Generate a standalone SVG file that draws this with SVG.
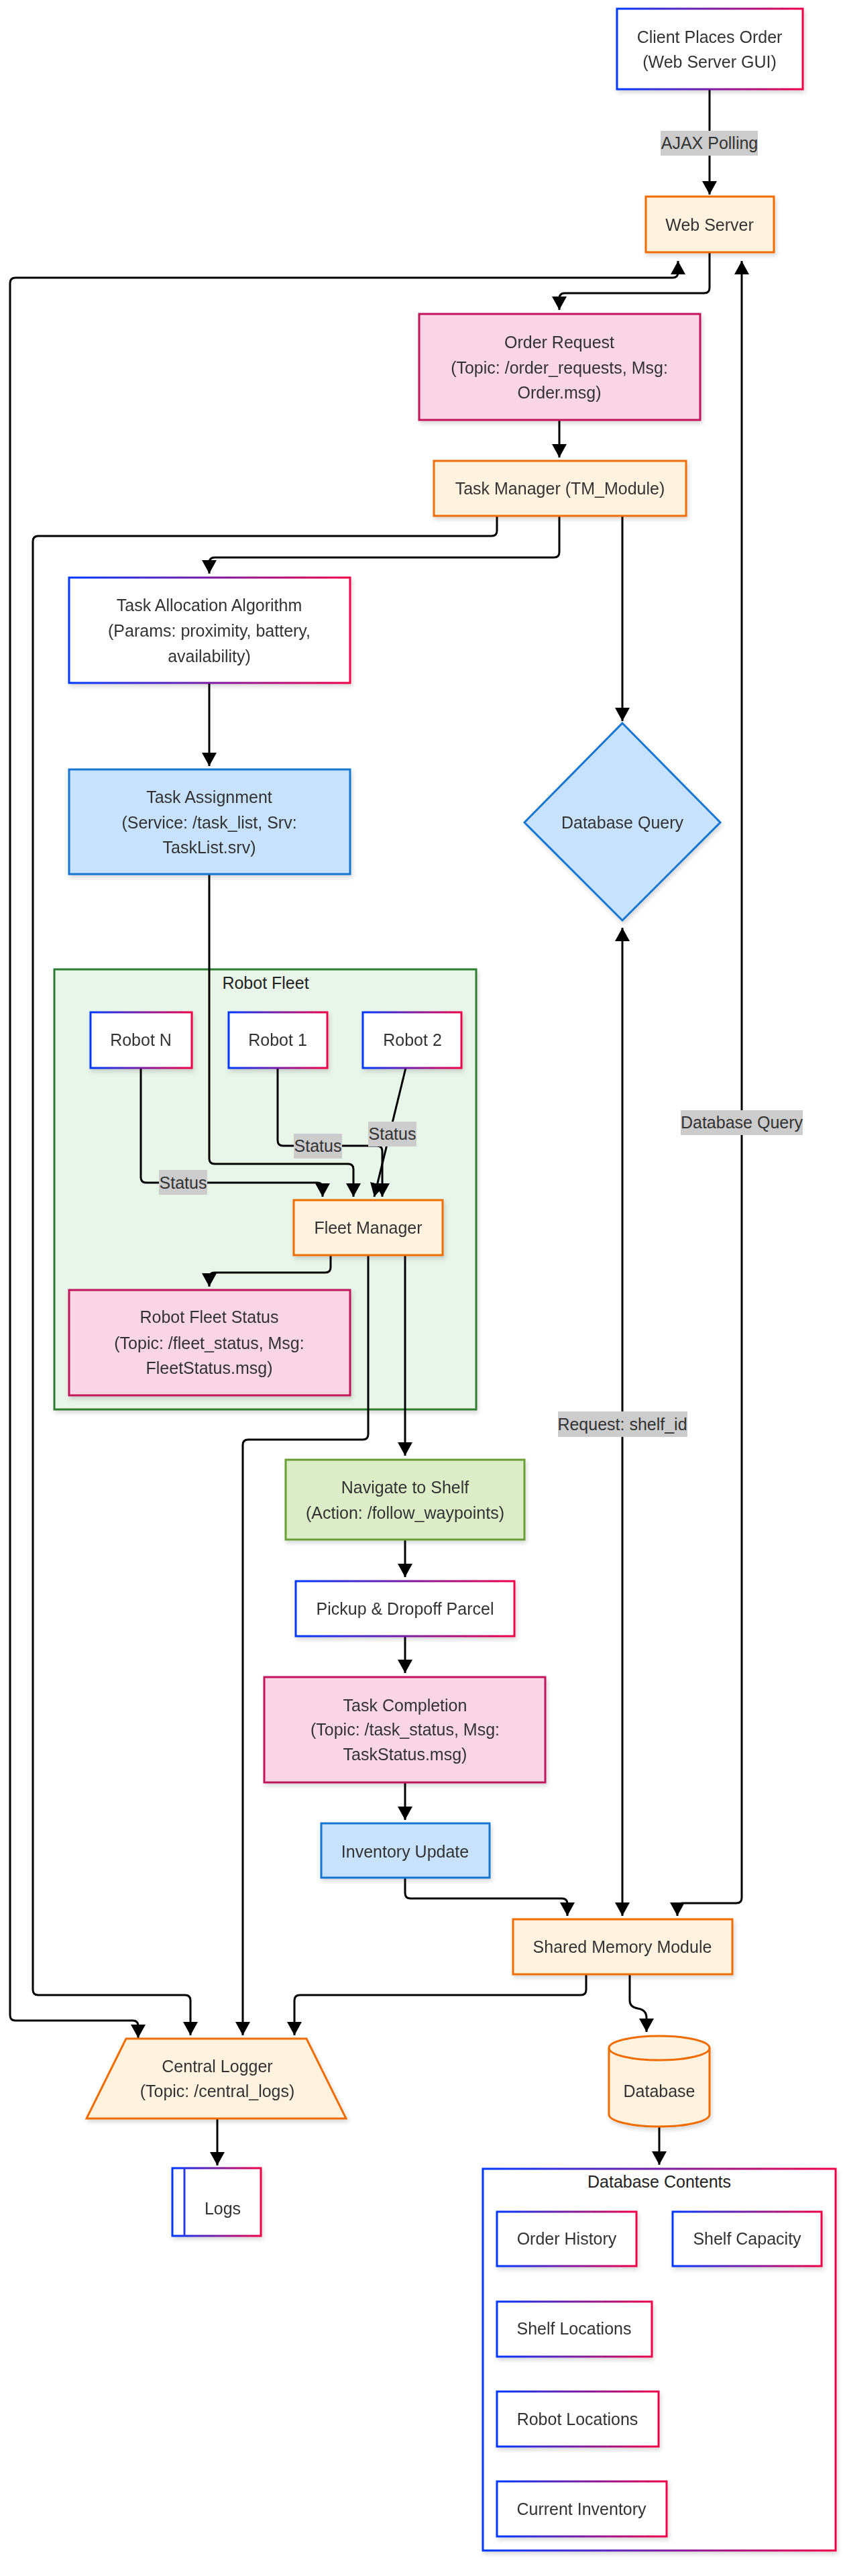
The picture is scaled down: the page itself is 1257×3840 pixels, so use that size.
<svg xmlns="http://www.w3.org/2000/svg" width="1257" height="3840" viewBox="0 0 1257 3840">
<defs>
<linearGradient id="grad" x1="0" y1="0" x2="1" y2="0">
<stop offset="0" stop-color="#0038ff"/>
<stop offset="1" stop-color="#f00048"/>
</linearGradient>
<filter id="sh" x="-10%" y="-10%" width="120%" height="130%">
<feDropShadow dx="2" dy="4" stdDeviation="3" flood-color="#000" flood-opacity="0.15"/>
</filter>
<marker id="ah" markerUnits="userSpaceOnUse" markerWidth="20" markerHeight="22" refX="20" refY="11" orient="auto-start-reverse" viewBox="0 0 20 22">
<path d="M0,0 L20,11 L0,22 z" fill="#000"/>
</marker>
<style>
.t{font-family:"Liberation Sans",Arial,sans-serif;font-size:25px;fill:#333;text-anchor:middle}
.tt{font-family:"Liberation Sans",Arial,sans-serif;font-size:25px;fill:#222;text-anchor:middle}
.g{fill:#fff;stroke:url(#grad);stroke-width:3}
.o{fill:#fff3e0;stroke:#ef6c00;stroke-width:3}
.p{fill:#f9d5e5;stroke:#c2185b;stroke-width:3}
.b{fill:#c6e2fc;stroke:#1976d2;stroke-width:3}
.gr{fill:#ddedc8;stroke:#689f38;stroke-width:3}
.e{fill:none;stroke:#000;stroke-width:3}
.lb{fill:#cccccc}
</style>
</defs>
<rect width="1257" height="3840" fill="#fff"/>

<g id="robot_fleet">
<rect x="81" y="1445" width="629" height="656" fill="#e8f5e9" stroke="#2e7d32" stroke-width="3" filter="url(#sh)"/>
<text class="tt" x="396" y="1474">Robot Fleet</text>
</g>
<g id="db_contents">
<rect x="720" y="3233" width="526" height="569" class="g" filter="url(#sh)"/>
<text class="tt" x="983" y="3261">Database Contents</text>
</g>

<g id="connectors" class="e">
<path class="e" d="M1058,133 L1058,290" marker-end="url(#ah)"/>
<path class="e" d="M1058,376 L1058,429 Q1058,437 1050,437 L842,437 Q834,437 834,445 L834,462" marker-end="url(#ah)"/>
<path class="e" d="M834,626 L834,682" marker-end="url(#ah)"/>
<path class="e" d="M834,769 L834,823 Q834,831 826,831 L320,831 Q312,831 312,839 L312,855" marker-end="url(#ah)"/>
<path class="e" d="M741,769 L741,791 Q741,799 733,799 L57,799 Q49,799 49,807 L49,2966 Q49,2974 57,2974 L276,2974 Q284,2974 284,2982 L284,3034" marker-end="url(#ah)"/>
<path class="e" d="M928,769 L928,1075" marker-end="url(#ah)"/>
<path class="e" d="M312,1018 L312,1142" marker-end="url(#ah)"/>
<path class="e" d="M312,1303 L312,1727 Q312,1735 320,1735 L519,1735 Q527,1735 527,1743 L527,1784" marker-end="url(#ah)"/>
<path class="e" d="M210,1592 L210,1755 Q210,1763 218,1763 L473,1763 Q481,1763 481,1771 L481,1784" marker-end="url(#ah)"/>
<path class="e" d="M414,1592 L414,1700 Q414,1708 422,1708 L562,1708 Q570,1708 570,1716 L570,1784" marker-end="url(#ah)"/>
<path class="e" d="M605,1592 L558,1784" marker-end="url(#ah)"/>
<path class="e" d="M493,1871 L493,1889 Q493,1897 485,1897 L320,1897 Q312,1897 312,1905 L312,1918" marker-end="url(#ah)"/>
<path class="e" d="M549,1871 L549,2138 Q549,2146 541,2146 L370,2146 Q362,2146 362,2154 L362,3034" marker-end="url(#ah)"/>
<path class="e" d="M604,1871 L604,2170" marker-end="url(#ah)"/>
<path class="e" d="M604,2295 L604,2351" marker-end="url(#ah)"/>
<path class="e" d="M604,2439 L604,2494" marker-end="url(#ah)"/>
<path class="e" d="M604,2657 L604,2713" marker-end="url(#ah)"/>
<path class="e" d="M604,2799 L604,2822 Q604,2830 612,2830 L838,2830 Q846,2830 846,2838 L846,2856" marker-end="url(#ah)"/>
<path class="e" d="M928,1383 L928,2856" marker-start="url(#ah)" marker-end="url(#ah)"/>
<path class="e" d="M1106,389 L1106,2829 Q1106,2837 1098,2837 L1018,2837 Q1010,2837 1010,2845 L1010,2856" marker-start="url(#ah)" marker-end="url(#ah)"/>
<path class="e" d="M1011,389 L1011,406 Q1011,414 1003,414 L23,414 Q15,414 15,422 L15,3004 Q15,3012 23,3012 L198,3012 Q206,3012 206,3020 L206,3038" marker-start="url(#ah)" marker-end="url(#ah)"/>
<path class="e" d="M874,2943 L874,2966 Q874,2974 866,2974 L447,2974 Q439,2974 439,2982 L439,3034" marker-end="url(#ah)"/>
<path class="e" d="M939,2943 L939,2982 Q939,2992 951,2994 Q964,2996 964,3008 L964,3029" marker-end="url(#ah)"/>
<path class="e" d="M324,3158 L324,3228" marker-end="url(#ah)"/>
<path class="e" d="M983,3170 L983,3227" marker-end="url(#ah)"/>
</g>

<g id="edge_labels">
<rect class="lb" x="985" y="195" width="145" height="37"/>
<text class="t" x="1058" y="222">AJAX Polling</text>
<rect class="lb" x="237" y="1744" width="72" height="37"/>
<text class="t" x="273" y="1772">Status</text>
<rect class="lb" x="438" y="1690" width="72" height="37"/>
<text class="t" x="474" y="1717">Status</text>
<rect class="lb" x="549" y="1672" width="72" height="37"/>
<text class="t" x="585" y="1699">Status</text>
<rect class="lb" x="1015" y="1655" width="182" height="37"/>
<text class="t" x="1106" y="1682">Database Query</text>
<rect class="lb" x="832" y="2104" width="193" height="38"/>
<text class="t" x="928" y="2132">Request: shelf_id</text>
</g>

<g id="client" filter="url(#sh)">
<rect x="920" y="13" width="277" height="120" class="g"/>
<text class="t" x="1058" y="64">Client Places Order</text>
<text class="t" x="1058" y="101">(Web Server GUI)</text>
</g>
<g id="web_server" filter="url(#sh)">
<rect x="963" y="293" width="191" height="83" class="o"/>
<text class="t" x="1058" y="344">Web Server</text>
</g>
<g id="order_request" filter="url(#sh)">
<rect x="625" y="468" width="419" height="158" class="p"/>
<text class="t" x="834" y="519">Order Request</text>
<text class="t" x="834" y="557">(Topic: /order_requests, Msg:</text>
<text class="t" x="834" y="594">Order.msg)</text>
</g>
<g id="task_manager" filter="url(#sh)">
<rect x="647" y="687" width="376" height="82" class="o"/>
<text class="t" x="835" y="737">Task Manager (TM_Module)</text>
</g>
<g id="task_allocation" filter="url(#sh)">
<rect x="103" y="861" width="419" height="157" class="g"/>
<text class="t" x="312" y="911">Task Allocation Algorithm</text>
<text class="t" x="312" y="949">(Params: proximity, battery,</text>
<text class="t" x="312" y="987">availability)</text>
</g>
<g id="task_assignment" filter="url(#sh)">
<rect x="103" y="1147" width="419" height="156" class="b"/>
<text class="t" x="312" y="1197">Task Assignment</text>
<text class="t" x="312" y="1235">(Service: /task_list, Srv:</text>
<text class="t" x="312" y="1272">TaskList.srv)</text>
</g>
<g id="database_query" filter="url(#sh)">
<polygon points="928,1078 1074,1226 928,1372 782,1226" class="b"/>
<text class="t" x="928" y="1235">Database Query</text>
</g>
<g id="robot_n" filter="url(#sh)">
<rect x="135" y="1509" width="151" height="83" class="g"/>
<text class="t" x="210" y="1559">Robot N</text>
</g>
<g id="robot_1" filter="url(#sh)">
<rect x="341" y="1509" width="147" height="83" class="g"/>
<text class="t" x="414" y="1559">Robot 1</text>
</g>
<g id="robot_2" filter="url(#sh)">
<rect x="541" y="1509" width="147" height="83" class="g"/>
<text class="t" x="615" y="1559">Robot 2</text>
</g>
<g id="fleet_manager" filter="url(#sh)">
<rect x="438" y="1789" width="222" height="82" class="o"/>
<text class="t" x="549" y="1839">Fleet Manager</text>
</g>
<g id="robot_fleet_status" filter="url(#sh)">
<rect x="103" y="1923" width="419" height="157" class="p"/>
<text class="t" x="312" y="1972">Robot Fleet Status</text>
<text class="t" x="312" y="2011">(Topic: /fleet_status, Msg:</text>
<text class="t" x="312" y="2048">FleetStatus.msg)</text>
</g>
<g id="navigate" filter="url(#sh)">
<rect x="426" y="2176" width="356" height="119" class="gr"/>
<text class="t" x="604" y="2226">Navigate to Shelf</text>
<text class="t" x="604" y="2264">(Action: /follow_waypoints)</text>
</g>
<g id="pickup" filter="url(#sh)">
<rect x="441" y="2357" width="326" height="82" class="g"/>
<text class="t" x="604" y="2407">Pickup &amp; Dropoff Parcel</text>
</g>
<g id="task_completion" filter="url(#sh)">
<rect x="394" y="2500" width="419" height="157" class="p"/>
<text class="t" x="604" y="2551">Task Completion</text>
<text class="t" x="604" y="2587">(Topic: /task_status, Msg:</text>
<text class="t" x="604" y="2624">TaskStatus.msg)</text>
</g>
<g id="inventory_update" filter="url(#sh)">
<rect x="479" y="2718" width="251" height="81" class="b"/>
<text class="t" x="604" y="2769">Inventory Update</text>
</g>
<g id="shared_memory" filter="url(#sh)">
<rect x="765" y="2861" width="327" height="82" class="o"/>
<text class="t" x="928" y="2911">Shared Memory Module</text>
</g>
<g id="central_logger" filter="url(#sh)">
<polygon points="188,3039 457,3039 516,3158 129,3158" class="o"/>
<text class="t" x="324" y="3089">Central Logger</text>
<text class="t" x="324" y="3126">(Topic: /central_logs)</text>
</g>
<g id="database" filter="url(#sh)">
<path d="M908,3053 A75,18 0 0 1 1058,3053 L1058,3152 A75,18 0 0 1 908,3152 Z" class="o"/>
<path d="M908,3053 A75,18 0 0 0 1058,3053" fill="none" stroke="#ef6c00" stroke-width="3"/>
<text class="t" x="983" y="3126">Database</text>
</g>
<g id="logs" filter="url(#sh)">
<rect x="257" y="3232" width="132" height="101" class="g"/>
<line x1="257" y1="3251" x2="389" y2="3251" stroke="url(#grad)" stroke-width="3"/>
<line x1="275" y1="3232" x2="275" y2="3333" stroke="#2a3ce0" stroke-width="3"/>
<text class="t" x="332" y="3301">Logs</text>
</g>
<g id="order_history" filter="url(#sh)">
<rect x="741" y="3297" width="208" height="81" class="g"/>
<text class="t" x="845" y="3346">Order History</text>
</g>
<g id="shelf_capacity" filter="url(#sh)">
<rect x="1003" y="3297" width="222" height="81" class="g"/>
<text class="t" x="1114" y="3346">Shelf Capacity</text>
</g>
<g id="shelf_locations" filter="url(#sh)">
<rect x="741" y="3431" width="231" height="82" class="g"/>
<text class="t" x="856" y="3480">Shelf Locations</text>
</g>
<g id="robot_locations" filter="url(#sh)">
<rect x="741" y="3565" width="241" height="82" class="g"/>
<text class="t" x="861" y="3615">Robot Locations</text>
</g>
<g id="current_inventory" filter="url(#sh)">
<rect x="741" y="3699" width="253" height="82" class="g"/>
<text class="t" x="867" y="3749">Current Inventory</text>
</g>
</svg>
